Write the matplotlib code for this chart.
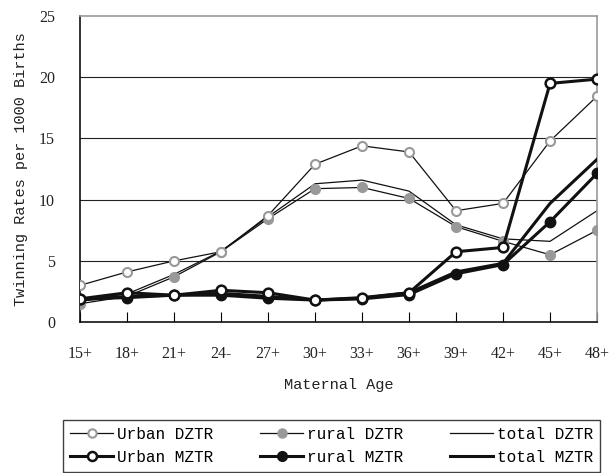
import matplotlib.pyplot as plt
from matplotlib.lines import Line2D

ages = ["15+", "18+", "21+", "24-", "27+", "30+", "33+", "36+", "39+", "42+", "45+", "48+"]

urban_dztr = [3.0, 4.1, 5.0, 5.75, 8.7, 12.9, 14.4, 13.9, 9.1, 9.7, 14.8, 18.45]
rural_dztr = [1.5, 2.1, 3.7, 5.75, 8.45, 10.9, 11.0, 10.1, 7.8, 6.6, 5.5, 7.5]
total_dztr = [1.8, 2.3, 3.9, 5.8, 8.6, 11.3, 11.6, 10.7, 7.95, 6.8, 6.6, 9.1]
urban_mztr = [1.9, 2.4, 2.2, 2.6, 2.4, 1.8, 2.0, 2.4, 5.75, 6.1, 19.5, 19.85]
rural_mztr = [1.9, 2.0, 2.2, 2.2, 1.95, 1.8, 1.9, 2.25, 3.95, 4.7, 8.2, 12.15]
total_mztr = [1.8, 2.1, 2.2, 2.35, 2.1, 1.8, 1.95, 2.4, 4.1, 4.8, 9.7, 13.3]

mono = "Liberation Mono"
serif = "Liberation Serif"
gray = "#999999"

fig = plt.figure(figsize=(6.13, 4.73), dpi=100)
ax = fig.add_axes([0.1305, 0.319, 0.8435, 0.647])

x = list(range(len(ages)))

# grid lines first
for v in [5, 10, 15, 20]:
    ax.axhline(v, color="#222222", lw=0.8, zorder=1)

ax.plot(x, total_dztr, color="#111111", lw=0.9, zorder=2)
ax.plot(x, rural_dztr, color="#111111", lw=0.9, marker="o", ms=7,
        mfc=gray, mec=gray, zorder=3)
ax.plot(x, urban_dztr, color="#111111", lw=0.9, marker="o", ms=6.5,
        mfc="white", mec=gray, mew=1.5, zorder=3)
ax.plot(x, total_mztr, color="#111111", lw=2.2, zorder=4)
ax.plot(x, rural_mztr, color="#111111", lw=2.2, marker="o", ms=7.5,
        mfc="#111111", mec="#111111", zorder=5)
ax.plot(x, urban_mztr, color="#111111", lw=2.2, marker="o", ms=7,
        mfc="white", mec="#111111", mew=1.8, zorder=6)

ax.set_xlim(0, 11)
ax.set_ylim(0, 25)
ax.set_yticks([0, 5, 10, 15, 20, 25])
ax.set_xticks(x)
ax.set_xticklabels(ages)
for lab in ax.get_xticklabels() + ax.get_yticklabels():
    lab.set_fontfamily(serif)
    lab.set_fontsize(11.5)
    lab.set_color("#222222")

ax.tick_params(axis="x", direction="in", length=7, width=0.8, pad=17)
ax.tick_params(axis="y", length=0, pad=18)

ax.spines["left"].set_color("#111111")
ax.spines["bottom"].set_color("#111111")
ax.spines["left"].set_linewidth(1.2)
ax.spines["bottom"].set_linewidth(1.2)
ax.spines["top"].set_color(gray)
ax.spines["right"].set_color(gray)
ax.spines["top"].set_linewidth(1.2)
ax.spines["right"].set_linewidth(1.2)

ax.set_xlabel("Maternal Age", fontfamily=mono, fontsize=11, labelpad=12, color="#222222")
ax.set_ylabel("Twinning Rates per 1000 Births", fontfamily=mono, fontsize=11,
              labelpad=8, color="#222222")

handles = [
    Line2D([], [], color="#111111", lw=0.9, marker="o", ms=6, mfc="white", mec=gray, mew=1.5),
    Line2D([], [], color="#111111", lw=2.2, marker="o", ms=6.5, mfc="white", mec="#111111", mew=1.8),
    Line2D([], [], color="#111111", lw=0.9, marker="o", ms=6.5, mfc=gray, mec=gray),
    Line2D([], [], color="#111111", lw=2.2, marker="o", ms=7, mfc="#111111", mec="#111111"),
    Line2D([], [], color="#111111", lw=0.9),
    Line2D([], [], color="#111111", lw=2.2),
]
labels = ["Urban DZTR", "Urban MZTR", "rural DZTR", "rural MZTR", "total DZTR", "total MZTR"]
leg = fig.legend(handles, labels, ncol=3, loc="lower left",
                 bbox_to_anchor=(63 / 613, 1 / 473, 537 / 613, 56 / 473),
                 mode="expand", fancybox=False, edgecolor="#111111",
                 prop={"family": mono, "size": 11.5}, handlelength=2.7,
                 handletextpad=0.2, borderpad=0.45, labelspacing=0.5,
                 columnspacing=1.0, borderaxespad=0)
leg.get_frame().set_linewidth(1.0)

fig.savefig("out.png", dpi=100)
